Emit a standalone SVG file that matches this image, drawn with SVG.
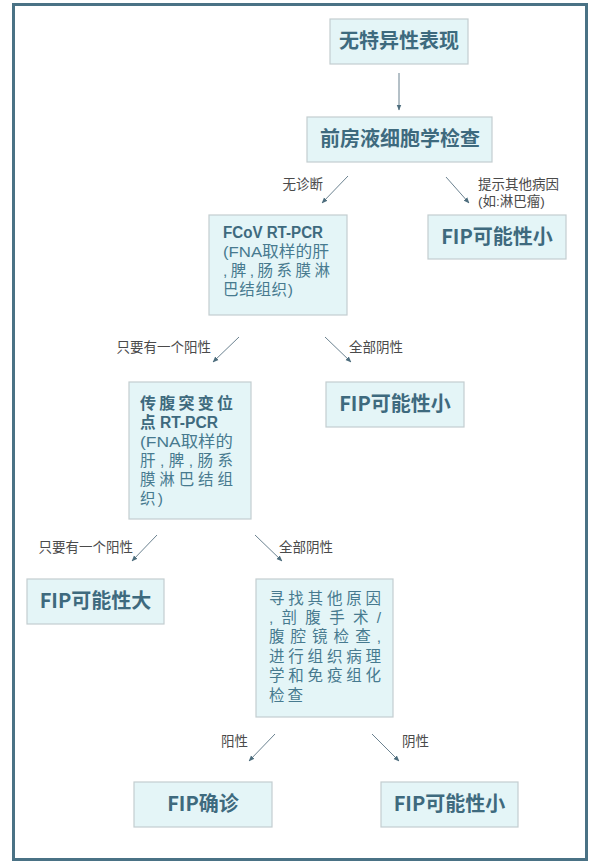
<svg xmlns="http://www.w3.org/2000/svg" width="600" height="866" viewBox="0 0 600 866">
<defs>
<marker id="ah" viewBox="0 0 10 10" refX="9" refY="5" markerWidth="6" markerHeight="6" orient="auto" markerUnits="userSpaceOnUse">
<path d="M0,1 L10,5 L0,9 z" fill="#4d6d7d"/>
</marker>
<style>
.box{fill:#e4f5f7;stroke:#c3cdd0;stroke-width:1.2}
.t{font-family:"Noto Sans CJK SC","Noto Sans",sans-serif;font-weight:700;font-size:20px;fill:#3e6a7e;text-anchor:middle}
.h{font-family:"Liberation Sans","Noto Sans CJK SC",sans-serif;font-weight:700;font-size:16px;fill:#3e6a7e}
.b{font-family:"Liberation Sans","Noto Sans CJK SC",sans-serif;font-size:15.5px;fill:#477a8f}
.l{font-family:"Liberation Sans","Noto Sans CJK SC",sans-serif;font-size:13.5px;fill:#4a4a4a}
.c{stroke:#6b8290;stroke-width:1;fill:none;marker-end:url(#ah)}
</style>
</defs>
<rect x="0" y="0" width="600" height="866" fill="#ffffff"/>
<rect x="13.5" y="4.5" width="573" height="855" fill="none" stroke="#4a7285" stroke-width="3"/>

<g id="n1"><rect class="box" x="330" y="19" width="138" height="45"/><text class="t" x="399" y="48">无特异性表现</text></g>
<g id="n2"><rect class="box" x="307" y="117" width="185" height="45"/><text class="t" x="400" y="146">前房液细胞学检查</text></g>
<g id="n3"><rect class="box" x="209" y="215" width="138" height="100"/>
<text class="h" x="223" y="238" textLength="100" lengthAdjust="spacingAndGlyphs">FCoV RT-PCR</text>
<text class="b" x="223" y="257" textLength="106" lengthAdjust="spacingAndGlyphs">(FNA取样的肝</text>
<text class="b" x="223" y="276" textLength="107" lengthAdjust="spacing">,脾,肠系膜淋</text>
<text class="b" x="223" y="295" textLength="70" lengthAdjust="spacing">巴结组织)</text>
</g>
<g id="n4"><rect class="box" x="428" y="215" width="138" height="44"/><text class="t" x="497" y="244">FIP可能性小</text></g>
<g id="n5"><rect class="box" x="129" y="382" width="122" height="137"/>
<text class="h" x="140" y="409" textLength="93" lengthAdjust="spacing">传腹突变位</text>
<text class="h" x="140" y="428" textLength="78" lengthAdjust="spacingAndGlyphs">点 RT-PCR</text>
<text class="b" x="140" y="447" textLength="93" lengthAdjust="spacingAndGlyphs">(FNA取样的</text>
<text class="b" x="140" y="466" textLength="93" lengthAdjust="spacing">肝,脾,肠系</text>
<text class="b" x="140" y="485" textLength="93" lengthAdjust="spacing">膜淋巴结组</text>
<text class="b" x="140" y="504" textLength="23" lengthAdjust="spacing">织)</text>
</g>
<g id="n6"><rect class="box" x="326" y="382" width="138" height="45"/><text class="t" x="395" y="411">FIP可能性小</text></g>
<g id="n7"><rect class="box" x="27" y="579" width="137" height="45"/><text class="t" x="95.5" y="608">FIP可能性大</text></g>
<g id="n8"><rect class="box" x="256" y="579" width="137" height="138"/>
<text class="b" x="269" y="604" textLength="112" lengthAdjust="spacing">寻找其他原因</text>
<text class="b" x="269" y="623" textLength="112" lengthAdjust="spacing">,剖腹手术/</text>
<text class="b" x="269" y="642" textLength="112" lengthAdjust="spacing">腹腔镜检查,</text>
<text class="b" x="269" y="662" textLength="112" lengthAdjust="spacing">进行组织病理</text>
<text class="b" x="269" y="681" textLength="112" lengthAdjust="spacing">学和免疫组化</text>
<text class="b" x="269" y="701" textLength="34" lengthAdjust="spacing">检查</text>
</g>
<g id="n9"><rect class="box" x="134" y="782" width="138" height="45"/><text class="t" x="203" y="811">FIP确诊</text></g>
<g id="n10"><rect class="box" x="381" y="782" width="137" height="45"/><text class="t" x="449.5" y="811">FIP可能性小</text></g>

<g id="connectors">
<line class="c" x1="399" y1="73" x2="399" y2="110"/>
<line class="c" x1="348" y1="176" x2="322" y2="203"/>
<line class="c" x1="446" y1="177" x2="469" y2="203"/>
<line class="c" x1="239" y1="337" x2="213" y2="362"/>
<line class="c" x1="325" y1="337" x2="351" y2="362"/>
<line class="c" x1="157" y1="535" x2="132" y2="561"/>
<line class="c" x1="255" y1="535" x2="282" y2="561"/>
<line class="c" x1="275" y1="734" x2="249" y2="761"/>
<line class="c" x1="372" y1="734" x2="399" y2="761"/>
<text class="l" x="323" y="189" text-anchor="end">无诊断</text>
<text class="l" x="478" y="189">提示其他病因</text>
<text class="l" x="478" y="206">(如:淋巴瘤)</text>
<text class="l" x="211" y="352" text-anchor="end">只要有一个阳性</text>
<text class="l" x="349" y="352">全部阴性</text>
<text class="l" x="133" y="552" text-anchor="end">只要有一个阳性</text>
<text class="l" x="279" y="552">全部阴性</text>
<text class="l" x="221" y="746">阳性</text>
<text class="l" x="402" y="746">阴性</text>
</g>
</svg>
